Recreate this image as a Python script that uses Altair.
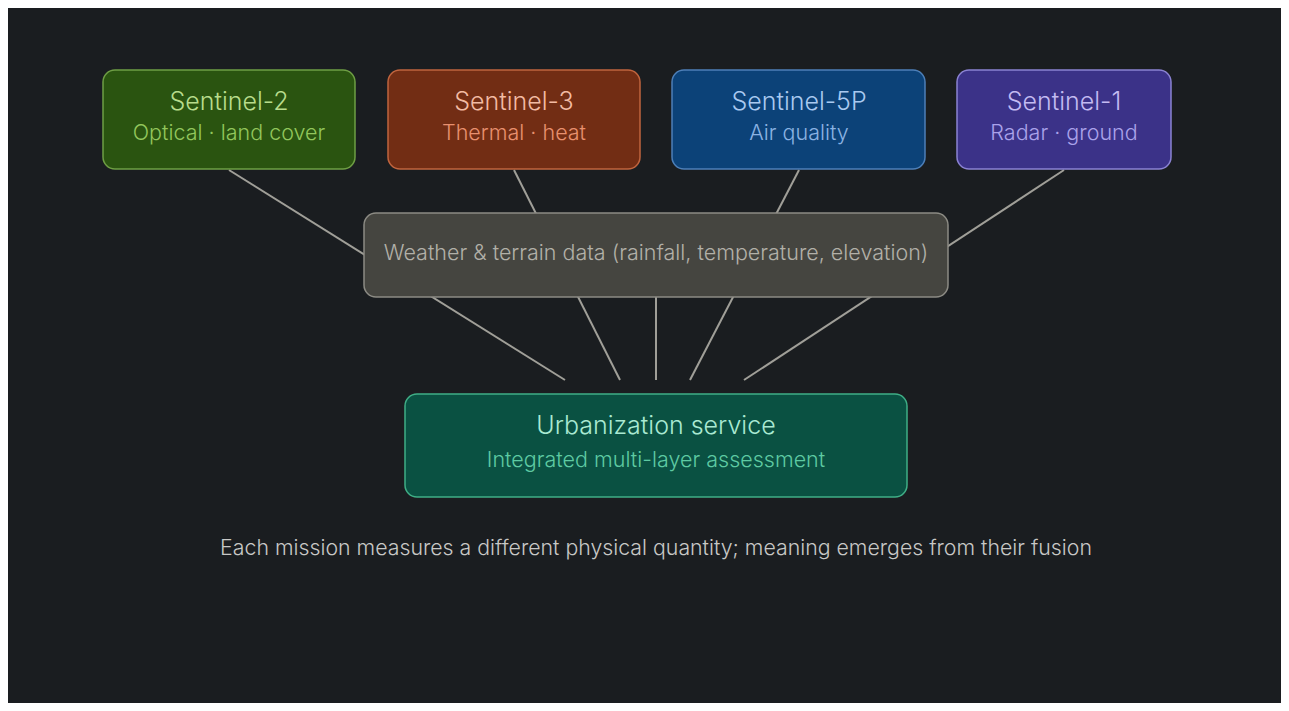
import altair as alt
import pandas as pd

# Canvas (image pixel coordinates)
X0, Y0 = 8, 8
W, H = 1273, 695
BG = "#1a1d20"

# Boxes
box_id = ["Sentinel-2", "Sentinel-3", "Sentinel-5P", "Sentinel-1", "Weather", "Urbanization"]
box_x1 = [103, 388, 672, 957, 364, 405]
box_x2 = [355, 640, 925, 1171, 948, 907]
box_y1 = [70, 70, 70, 70, 213, 394]
box_y2 = [169, 169, 169, 169, 297, 497]
box_fill = ["#2a5410", "#722d14", "#0c4278", "#3b3288", "#454540", "#0a5142"]
box_stroke = ["#6e9e44", "#c0643e", "#4d7fb8", "#8a82d2", "#8c8b84", "#3fae86"]

# Connectors (source point -> convergence point, drawn behind boxes)
line_x1 = [229, 514, 799, 1064, 656]
line_y1 = [170, 170, 170, 170, 297]
line_x2 = [565, 620, 690, 744, 656]
line_y2 = [380, 380, 380, 380, 380]

# Titles
title_text = ["Sentinel-2", "Sentinel-3", "Sentinel-5P", "Sentinel-1", "Urbanization service"]
title_x = [229, 514, 799, 1064, 656]
title_y = [101, 101, 101, 101, 425]
title_color = ["#b8dc8c", "#f2bba3", "#a9c9f0", "#c3bbf2", "#a9e9d2"]

# Subtitles
sub_text = ["Optical · land cover", "Thermal · heat", "Air quality", "Radar · ground",
            "Integrated multi-layer assessment",
            "Weather & terrain data (rainfall, temperature, elevation)"]
sub_x = [229, 514, 799, 1064, 656, 656]
sub_y = [133, 133, 133, 133, 460, 253]
sub_color = ["#92c65c", "#e8906e", "#8ab2e2", "#aaa2ea", "#5ecaa2", "#b2b0a8"]

footer_text = ["Each mission measures a different physical quantity; meaning emerges from their fusion"]
footer_x = [656]
footer_y = [548]

boxes = pd.DataFrame(dict(id=box_id, x1=box_x1, x2=box_x2, y1=box_y1, y2=box_y2,
                          fill=box_fill, stroke=box_stroke))
lines = pd.DataFrame(dict(x1=line_x1, y1=line_y1, x2=line_x2, y2=line_y2))
titles = pd.DataFrame(dict(t=title_text, x=title_x, y=title_y, c=title_color))
subs = pd.DataFrame(dict(t=sub_text, x=sub_x, y=sub_y, c=sub_color))
footer = pd.DataFrame(dict(t=footer_text, x=footer_x, y=footer_y))

xs = alt.Scale(domain=[X0, X0 + W], nice=False, zero=False)
ys = alt.Scale(domain=[Y0, Y0 + H], nice=False, zero=False, reverse=True)

conn = alt.Chart(lines).mark_rule(stroke="#a09f98", strokeWidth=2).encode(
    x=alt.X("x1:Q", scale=xs, axis=None), y=alt.Y("y1:Q", scale=ys, axis=None),
    x2="x2:Q", y2="y2:Q")

rects = alt.Chart(boxes).mark_rect(cornerRadius=12, strokeWidth=1.5).encode(
    x=alt.X("x1:Q", scale=xs, axis=None), x2="x2:Q",
    y=alt.Y("y1:Q", scale=ys, axis=None), y2="y2:Q",
    fill=alt.Fill("fill:N", scale=None), stroke=alt.Stroke("stroke:N", scale=None))

ttl = alt.Chart(titles).mark_text(font="Inter", fontSize=25, fontWeight=300, dy=1,
                                  align="center", baseline="middle").encode(
    x=alt.X("x:Q", scale=xs, axis=None), y=alt.Y("y:Q", scale=ys, axis=None),
    text="t:N", color=alt.Color("c:N", scale=None))

sub = alt.Chart(subs).mark_text(font="Inter", fontSize=21.5, fontWeight=300, dy=1,
                                align="center", baseline="middle").encode(
    x=alt.X("x:Q", scale=xs, axis=None), y=alt.Y("y:Q", scale=ys, axis=None),
    text="t:N", color=alt.Color("c:N", scale=None))

foot = alt.Chart(footer).mark_text(font="Inter", fontSize=21.3, fontWeight=300, dy=1,
                                   align="center", baseline="middle",
                                   color="#c8c8c6").encode(
    x=alt.X("x:Q", scale=xs, axis=None), y=alt.Y("y:Q", scale=ys, axis=None), text="t:N")

chart = alt.layer(conn, rects, ttl, sub, foot).properties(
    width=W, height=H, background=BG, padding=0,
    autosize=alt.AutoSizeParams(type="none")
).configure_view(stroke=None)

chart.save("out.html", embed_options={"renderer": "svg", "actions": False})
